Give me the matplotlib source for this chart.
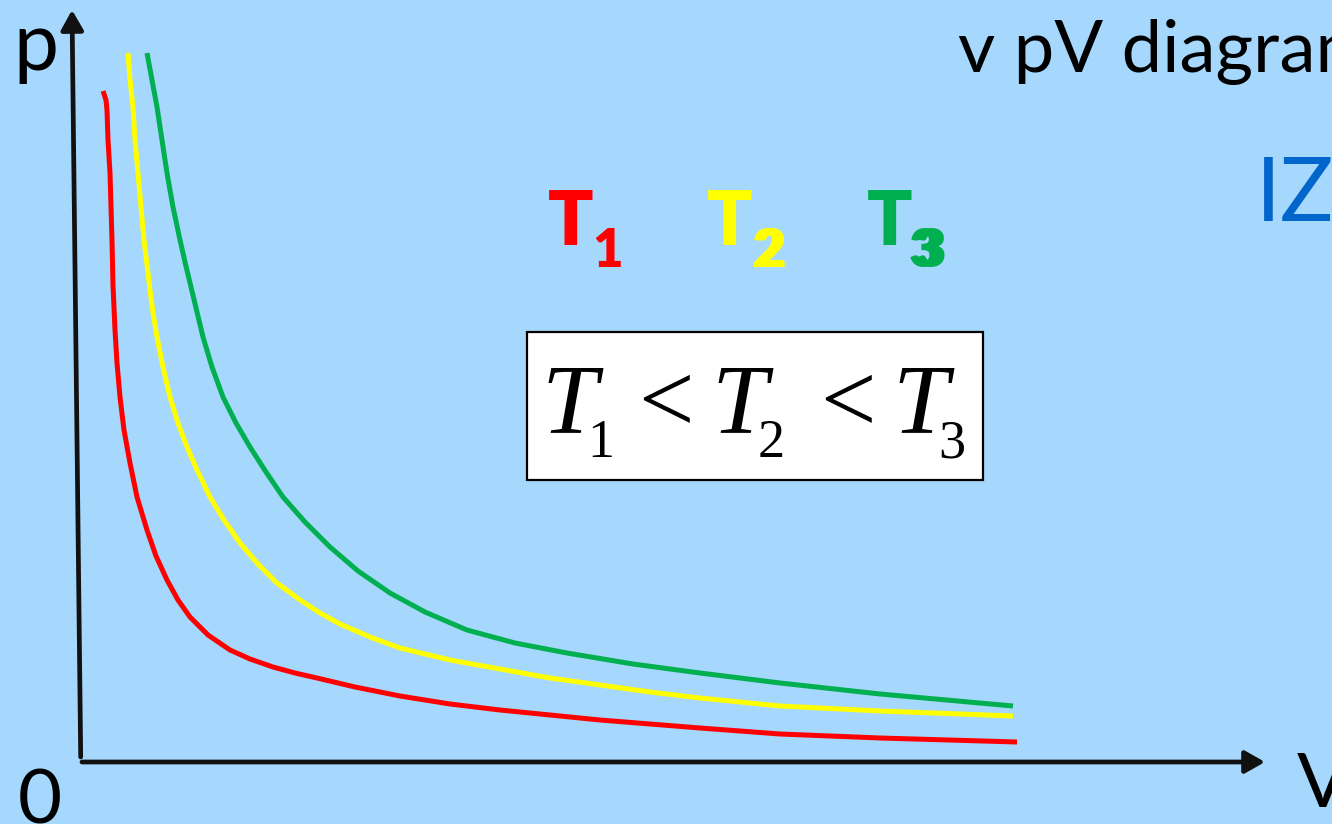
import matplotlib
matplotlib.use("Agg")
import matplotlib.pyplot as plt
from matplotlib.patches import Rectangle

# ---------------- data (V, p) ----------------
V_T1 = [0.23, 0.26, 0.27, 0.28, 0.30, 0.31, 0.32, 0.33, 0.35, 0.37, 0.40, 0.44, 0.50, 0.57,
        0.67, 0.76, 0.87, 0.98, 1.10, 1.28, 1.50, 1.70, 1.93, 2.15, 2.37, 2.75, 3.20, 3.70,
        4.20, 4.70, 5.20, 5.70, 6.20, 7.00, 8.00, 9.37]
p_T1 = [6.71, 6.62, 6.52, 6.22, 5.89, 5.55, 5.22, 4.77, 4.32, 3.99, 3.65, 3.32, 2.99, 2.65,
        2.32, 2.06, 1.82, 1.62, 1.45, 1.27, 1.12, 1.03, 0.95, 0.89, 0.84, 0.75, 0.66, 0.58,
        0.52, 0.47, 0.42, 0.38, 0.34, 0.28, 0.24, 0.20]

V_T2 = [0.48, 0.50, 0.53, 0.55, 0.58, 0.61, 0.64, 0.67, 0.70, 0.73, 0.77, 0.83, 0.90, 0.98,
        1.07, 1.18, 1.30, 1.44, 1.60, 1.78, 1.97, 2.20, 2.40, 2.60, 2.90, 3.20, 3.70, 4.20,
        4.70, 5.20, 5.70, 6.20, 7.00, 8.00, 9.33]
p_T2 = [7.09, 6.82, 6.55, 6.22, 5.89, 5.55, 5.22, 4.97, 4.72, 4.49, 4.25, 3.95, 3.65, 3.39,
        3.15, 2.90, 2.65, 2.42, 2.19, 1.98, 1.79, 1.62, 1.49, 1.38, 1.25, 1.14, 1.02, 0.93,
        0.84, 0.77, 0.70, 0.64, 0.56, 0.51, 0.46]

V_T3 = [0.67, 0.72, 0.77, 0.82, 0.87, 0.93, 1.00, 1.05, 1.11, 1.17, 1.23, 1.32, 1.43, 1.56,
        1.70, 1.86, 2.03, 2.25, 2.50, 2.78, 3.10, 3.45, 3.87, 4.35, 4.87, 5.53, 6.20, 7.00,
        8.00, 9.33]
p_T3 = [7.09, 6.82, 6.55, 6.22, 5.89, 5.55, 5.22, 5.00, 4.75, 4.50, 4.25, 3.95, 3.65, 3.39,
        3.15, 2.90, 2.65, 2.40, 2.15, 1.91, 1.69, 1.50, 1.32, 1.19, 1.09, 0.98, 0.89, 0.79,
        0.68, 0.56]

series_labels = ["1", "2", "3"]
series_colors = ["#FF0000", "#FFFF00", "#00B050"]

BG = "#A6D7FC"

fig = plt.figure(figsize=(13.32, 8.24), dpi=100)
fig.patch.set_facecolor(BG)
ax = fig.add_axes([0, 0, 1, 1])
ax.set_facecolor(BG)
ax.set_xlim(-0.80, 12.52)
ax.set_ylim(-0.62, 7.62)
ax.axis("off")

# isotherms
for V, p, c in zip([V_T1, V_T2, V_T3], [p_T1, p_T2, p_T3], series_colors):
    ax.plot(V, p, color=c, lw=3.6, solid_capstyle="butt", solid_joinstyle="round")

# axes with arrows
arrow = dict(arrowstyle="-|>,head_length=0.6,head_width=0.34", lw=3.4,
             color="#111111", mutation_scale=20, shrinkA=0, shrinkB=0)
ax.annotate("", xy=(-0.08, 7.52), xytext=(0.007, 0.05), arrowprops=arrow)
ax.annotate("", xy=(11.85, 0.0), xytext=(0.02, 0.0), arrowprops=arrow)

sans = "Lato"
ax.text(-0.67, 6.92, "p", fontsize=58, family=sans, ha="left", va="baseline")
ax.text(-0.62, -0.62, "0", fontsize=55, family=sans, ha="left", va="baseline")
ax.text(12.17, -0.45, "V", fontsize=55, family=sans, ha="left", va="baseline")
ax.text(8.78, 6.90, "v pV diagramu", fontsize=52, family=sans, ha="left", va="baseline")
ax.text(11.76, 5.40, "IZOTERMY", fontsize=64, family=sans, color="#0066CC",
        ha="left", va="baseline")

# coloured T labels
T_pos = [4.68, 6.27, 7.87]
sub_pos = [[5.12], [6.71, 6.75], [8.29, 8.36]]
for tx, subs, lab, c in zip(T_pos, sub_pos, series_labels, series_colors):
    ax.text(tx, 5.17, "T", fontsize=54, family=sans, weight="heavy", color=c,
            ha="left", va="baseline")
    for sx in subs:
        ax.text(sx, 4.95, lab, fontsize=38, family=sans, weight="heavy", color=c,
                ha="left", va="baseline")

# boxed inequality
ax.add_patch(Rectangle((4.47, 2.82), 9.03 - 4.47, 4.30 - 2.82, facecolor="white",
                       edgecolor="black", lw=1.6, zorder=3))
serif = "Liberation Serif"
for tx, sx, lab in zip([4.61, 6.31, 8.12], [5.07, 6.78, 8.58], series_labels):
    ax.text(tx, 3.30, "T", fontsize=72, family=serif, style="italic",
            ha="left", va="baseline", zorder=4)
    ax.text(sx, 3.05, lab, fontsize=39, family=serif, ha="left", va="baseline", zorder=4)
for lx in [5.58, 7.40]:
    ax.text(lx, 3.30, "<", fontsize=71, family=serif, ha="left", va="baseline", zorder=4)

fig.savefig("out.png", dpi=100, facecolor=BG)
